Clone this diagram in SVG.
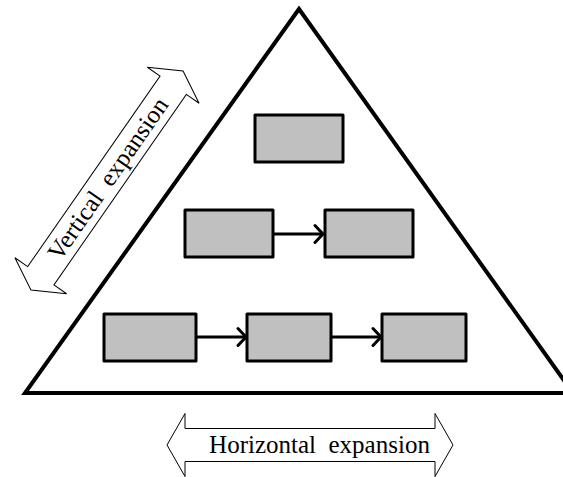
<svg xmlns="http://www.w3.org/2000/svg" width="563" height="477" viewBox="0 0 563 477">
<style>
.box{fill:#c0c0c0;stroke:#000;stroke-width:3;stroke-linejoin:round}
.conn{stroke:#000;stroke-width:3;fill:none}
.block{fill:#fff;stroke:#000;stroke-width:1;stroke-linejoin:miter}
.lbl{font-family:"Liberation Serif","Times New Roman",serif;font-size:25px;fill:#000}
</style>
<defs>
<marker id="chev" markerUnits="userSpaceOnUse" markerWidth="14" markerHeight="22" viewBox="0 0 14 22" refX="10" refY="11" orient="auto">
<path d="M2,2.5 L10,11 L2,19.5" fill="none" stroke="#000" stroke-width="3" stroke-linecap="round" stroke-linejoin="miter"/>
</marker>
</defs>
<g id="pyramid">
<polygon points="299,9 25,393 573,393" fill="none" stroke="#000" stroke-width="4" stroke-linejoin="miter"/>
</g>
<g id="vertical-expansion">
<g transform="translate(107,180.5) rotate(-55.2)">
<polygon class="block" points="-133.3,0 -116,-31.5 -116,-16 116,-16 116,-31.5 133.3,0 116,31.5 116,16 -116,16 -116,31.5"/>
<text class="lbl" x="2" y="8" text-anchor="middle" xml:space="preserve">Vertical  expansion</text>
</g>
</g>
<g id="horizontal-expansion">
<polygon class="block" points="167,445 185,413.5 185,428.5 435,428.5 435,413.5 453,445 435,476.5 435,461.5 185,461.5 185,476.5"/>
<text class="lbl" x="319.5" y="453" text-anchor="middle" xml:space="preserve">Horizontal  expansion</text>
</g>
<g id="n1"><rect class="box" x="255" y="115" width="88" height="47"/></g>
<g id="n2"><rect class="box" x="185" y="210" width="88" height="47"/></g>
<g id="n3"><rect class="box" x="325" y="210" width="88" height="47"/></g>
<g id="n4"><rect class="box" x="104" y="314" width="92" height="47"/></g>
<g id="n5"><rect class="box" x="247" y="314" width="84" height="47"/></g>
<g id="n6"><rect class="box" x="382" y="314" width="84" height="47"/></g>
<g id="connectors">
<line class="conn" x1="273" y1="234" x2="323" y2="234" marker-end="url(#chev)"/>
<line class="conn" x1="196" y1="337" x2="246" y2="337" marker-end="url(#chev)"/>
<line class="conn" x1="331" y1="337" x2="381" y2="337" marker-end="url(#chev)"/>
</g>
</svg>
